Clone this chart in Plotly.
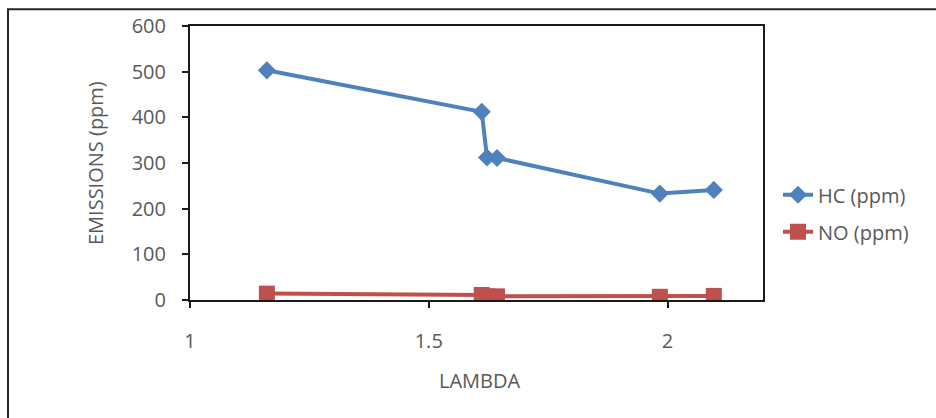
import plotly.graph_objects as go

lambda_vals = [1.161, 1.611, 1.622, 1.643, 1.984, 2.097]
hc_ppm = [503, 412, 312, 311, 233, 241]
no_ppm = [14, 11, 8, 8, 7, 9]

x_tick_vals = [1, 1.5, 2]
x_tick_text = ["1", "1.5", "2"]
y_tick_vals = [0, 100, 200, 300, 400, 500, 600]

FONT = "Open Sans, Liberation Sans, sans-serif"
TXT = "#595959"
FS = 20

fig = go.Figure()
fig.add_trace(go.Scatter(
    x=lambda_vals, y=hc_ppm, name="HC (ppm)", mode="lines+markers",
    legendgroup="hc",
    line=dict(color="#4F81BD", width=4),
    marker=dict(symbol="diamond", size=14, color="#4F81BD"),
))
fig.add_trace(go.Scatter(
    x=lambda_vals, y=no_ppm, name="NO (ppm)", mode="lines+markers",
    legendgroup="no",
    line=dict(color="#C0504D", width=4),
    marker=dict(symbol="square", size=16, color="#C0504D"),
))

fig.update_layout(
    width=936, height=418,
    margin=dict(l=190, r=173, t=22, b=118),
    paper_bgcolor="white", plot_bgcolor="white",
    font=dict(family=FONT, size=FS, color=TXT),
    showlegend=True,
    legend=dict(x=(778 - 190) / 573, y=(300 - 212) / 278, xanchor="left", yanchor="middle",
                font=dict(size=FS, color=TXT), itemwidth=30,
                tracegroupgap=8, bgcolor="rgba(0,0,0,0)"),
    xaxis=dict(range=[1, 2.2], tickvals=x_tick_vals, ticktext=x_tick_text,
               showgrid=False, zeroline=False, showline=True, linecolor="#1a1a1a",
               linewidth=2, mirror=True, ticks="outside", ticklen=6, tickwidth=1.5,
               tickcolor="#1a1a1a", ticklabelstandoff=16,
               tickfont=dict(size=FS, color=TXT)),
    yaxis=dict(range=[0, 600], tickvals=y_tick_vals,
               showgrid=False, zeroline=False, showline=True, linecolor="#1a1a1a",
               linewidth=2, mirror=True, ticks="outside", ticklen=6, tickwidth=1.5,
               tickcolor="#1a1a1a", ticklabelstandoff=12,
               tickfont=dict(size=FS, color=TXT)),
    annotations=[
        dict(text="EMISSIONS (ppm)", xref="paper", yref="paper",
             x=(95 - 190) / 573, y=(300 - 161) / 278, textangle=-90,
             showarrow=False, font=dict(size=FS, color=TXT),
             xanchor="center", yanchor="middle"),
        dict(text="LAMBDA", xref="paper", yref="paper",
             x=(480 - 190) / 573, y=(300 - 382) / 278,
             showarrow=False, font=dict(size=FS, color=TXT),
             xanchor="center", yanchor="middle"),
    ],
    shapes=[
        dict(type="rect", xref="paper", yref="paper",
             x0=(8 - 190) / 573, x1=2.0, y0=-1.0, y1=(300 - 5) / 278,
             line=dict(color="#262626", width=2), fillcolor="rgba(0,0,0,0)",
             layer="below"),
    ],
)

fig.write_html("out.html", config={"displayModeBar": False},
               post_script="document.body.style.margin='0';")
